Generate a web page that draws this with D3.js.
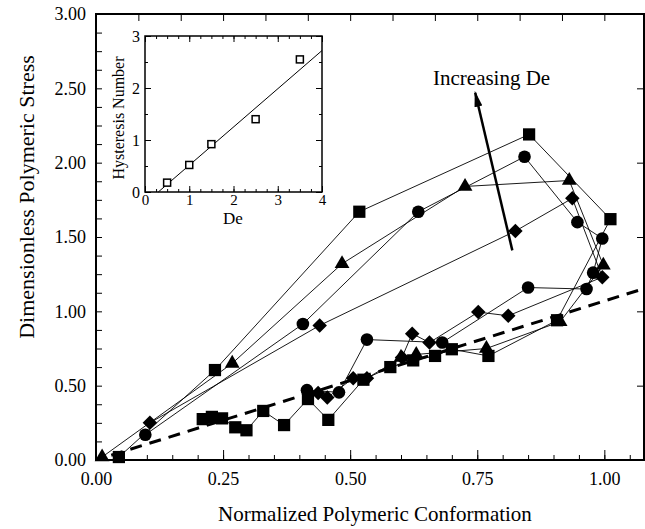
<!DOCTYPE html>
<html>
<head>
<meta charset="utf-8">
<script src="https://cdn.jsdelivr.net/npm/d3@7"></script>
<style>
  body { margin: 0; background: #fff; }
  svg { display: block; font-family: "Liberation Serif", "Times New Roman", serif; }
  .axis text { font-family: "Liberation Serif", "Times New Roman", serif; fill: #000; }
  .axis line { stroke: #000; }
</style>
</head>
<body>
<svg class="chart" width="645" height="529"></svg>
<script>
// main chart data, [conformation, stress]
var squares = [[0.045, 0.02], [0.234, 0.605], [0.518, 1.67], [0.852, 2.19], [1.012, 1.62],
    [0.907, 0.94], [0.772, 0.70], [0.70, 0.745], [0.667, 0.70], [0.624, 0.67], [0.579, 0.625],
    [0.526, 0.54], [0.457, 0.27], [0.417, 0.41], [0.37, 0.235], [0.329, 0.33], [0.296, 0.20],
    [0.274, 0.22], [0.248, 0.28], [0.228, 0.29], [0.21, 0.275]];
var circles = [[0.097, 0.17], [0.407, 0.915], [0.634, 1.67], [0.843, 2.04], [0.947, 1.60],
    [0.996, 1.49], [0.978, 1.26], [0.965, 1.15], [0.85, 1.16], [0.681, 0.79], [0.533, 0.81],
    [0.478, 0.455], [0.415, 0.47]];
var triangles = [[0.012, 0.02], [0.268, 0.65], [0.484, 1.32], [0.726, 1.84], [0.931, 1.88],
    [0.998, 1.31], [0.913, 0.93], [0.768, 0.75], [0.63, 0.71], [0.60, 0.69]];
var diamonds = [[0.106, 0.25], [0.44, 0.905], [0.825, 1.54], [0.937, 1.76], [0.996, 1.23],
    [0.811, 0.97], [0.752, 0.995], [0.656, 0.79], [0.622, 0.85], [0.602, 0.69], [0.533, 0.55],
    [0.506, 0.55], [0.455, 0.42], [0.437, 0.45]];
var dashedLine = [[0.03, 0.032], [1.08, 1.155]];
var arrowPts = [[0.819, 1.41], [0.746, 2.47]];

var xTicks = [0, 0.25, 0.5, 0.75, 1.0];
var yTicks = [0, 0.5, 1.0, 1.5, 2.0, 2.5, 3.0];

// inset data
var deValues = [0.5, 1.0, 1.5, 2.5, 3.5];
var hysteresis = [0.18, 0.52, 0.92, 1.40, 2.55];
var fitLine = [[0.3, 0.0], [4.0, 2.72]];
var insetXTicks = [0, 1, 2, 3, 4];
var insetYTicks = [0, 1, 2, 3];

var svg = d3.select(".chart"),
    margin = { top: 14, right: 0, bottom: 69, left: 96 },
    width = 549,
    height = 446;

var x = d3.scaleLinear().domain([0, 1.08]).range([margin.left, margin.left + width]),
    y = d3.scaleLinear().domain([0, 3]).range([margin.top + height, margin.top]);

var fmt = d3.format(".2f");

// axes (ticks point inward)
svg.append("g")
    .attr("class", "axis")
    .attr("transform", "translate(0," + y(0) + ")")
    .call(d3.axisBottom(x).tickValues(d3.range(0, 1.08, 0.05)).tickSize(-5).tickFormat(""));
svg.append("g")
    .attr("class", "axis")
    .attr("transform", "translate(0," + y(0) + ")")
    .call(d3.axisBottom(x).tickValues(xTicks).tickSize(-10).tickPadding(12).tickFormat(fmt))
    .selectAll("text").style("font-size", "18px");
svg.append("g")
    .attr("class", "axis")
    .attr("transform", "translate(" + x(0) + ",0)")
    .call(d3.axisLeft(y).tickValues(d3.range(0, 3.01, 0.125)).tickSize(-6).tickPadding(10)
        .tickFormat(function(d) { return yTicks.indexOf(d) >= 0 ? fmt(d) : ""; }))
    .selectAll("text").style("font-size", "18px");
svg.append("g")
    .attr("class", "axis")
    .attr("transform", "translate(0," + y(3) + ")")
    .call(d3.axisTop(x).tickValues(d3.range(0, 1.08, 0.25 / 3)).tickSize(-7).tickFormat(""));
svg.append("g")
    .attr("class", "axis")
    .attr("transform", "translate(" + (margin.left + width - 1) + ",0)")
    .call(d3.axisRight(y).tickValues(yTicks).tickSize(-7).tickFormat(""));
svg.selectAll(".axis .domain").remove();

svg.append("rect")
    .attr("x", x(0)).attr("y", y(3))
    .attr("width", width - 1).attr("height", height)
    .attr("fill", "none").attr("stroke", "#000").attr("stroke-width", 2);

// dashed reference line
var line = d3.line().x(function(d) { return x(d[0]); }).y(function(d) { return y(d[1]); });
svg.append("path")
    .attr("d", line(dashedLine))
    .attr("fill", "none").attr("stroke", "#000")
    .attr("stroke-width", 3).attr("stroke-dasharray", "12,8");

var series = [
    { data: squares, shape: d3.symbolSquare, size: 150, rot: 0 },
    { data: circles, shape: d3.symbolCircle, size: 125, rot: 0 },
    { data: triangles, shape: d3.symbolTriangle, size: 95, rot: 0 },
    { data: diamonds, shape: d3.symbolSquare, size: 105, rot: 45 }
];

series.forEach(function(s) {
    svg.append("path")
        .attr("d", line(s.data))
        .attr("fill", "none").attr("stroke", "#000").attr("stroke-width", 0.9);
});
series.forEach(function(s) {
    svg.append("g").selectAll("path")
        .data(s.data)
        .enter().append("path")
        .attr("d", d3.symbol().type(s.shape).size(s.size))
        .attr("transform", function(d) {
            return "translate(" + x(d[0]) + "," + y(d[1]) + ") rotate(" + s.rot + ")";
        })
        .attr("fill", "#000");
});

// arrow
svg.append("defs").append("marker")
    .attr("id", "head")
    .attr("viewBox", "0 0 16 10")
    .attr("refX", 14).attr("refY", 5)
    .attr("markerWidth", 16).attr("markerHeight", 10)
    .attr("markerUnits", "userSpaceOnUse")
    .attr("orient", "auto")
    .append("path").attr("d", "M0,1 L16,5 L0,9 Z").attr("fill", "#000");
svg.append("path")
    .attr("d", line(arrowPts))
    .attr("stroke", "#000").attr("stroke-width", 2.5)
    .attr("marker-end", "url(#head)");
svg.append("text")
    .attr("x", 433).attr("y", 85)
    .style("font-size", "21px")
    .text("Increasing De");

// axis titles
svg.append("text")
    .attr("x", 375).attr("y", 521)
    .attr("text-anchor", "middle")
    .style("font-size", "21px")
    .text("Normalized Polymeric Conformation");
svg.append("text")
    .attr("transform", "translate(34,197) rotate(-90)")
    .attr("text-anchor", "middle")
    .style("font-size", "22px")
    .text("Dimensionless Polymeric Stress");

// inset
var xi = d3.scaleLinear().domain([0, 4]).range([145, 322]),
    yi = d3.scaleLinear().domain([0, 3]).range([192, 36]);

svg.append("rect")
    .attr("x", xi(0)).attr("y", yi(3))
    .attr("width", xi(4) - xi(0)).attr("height", yi(0) - yi(3))
    .attr("fill", "#fff").attr("stroke", "#000").attr("stroke-width", 1.5);

var inset = svg.append("g").attr("class", "axis");
inset.append("g")
    .attr("transform", "translate(0," + yi(0) + ")")
    .call(d3.axisBottom(xi).tickValues(d3.range(0, 4.01, 0.25)).tickSize(-3).tickFormat(""));
inset.append("g")
    .attr("transform", "translate(0," + yi(0) + ")")
    .call(d3.axisBottom(xi).tickValues(insetXTicks).tickSize(-6).tickPadding(2).tickFormat(d3.format("d")))
    .selectAll("text").style("font-size", "15px");
inset.append("g")
    .attr("transform", "translate(0," + yi(3) + ")")
    .call(d3.axisTop(xi).tickValues(d3.range(0, 4.01, 0.25)).tickSize(-3).tickFormat(""));
inset.append("g")
    .attr("transform", "translate(0," + yi(3) + ")")
    .call(d3.axisTop(xi).tickValues(insetXTicks).tickSize(-6).tickFormat(""));
inset.append("g")
    .attr("transform", "translate(" + xi(0) + ",0)")
    .call(d3.axisLeft(yi).tickValues(d3.range(0, 3.01, 0.5)).tickSize(-3).tickFormat(""));
inset.append("g")
    .attr("transform", "translate(" + xi(0) + ",0)")
    .call(d3.axisLeft(yi).tickValues(insetYTicks).tickSize(-6).tickPadding(5).tickFormat(d3.format("d")))
    .selectAll("text").style("font-size", "16px");
inset.append("g")
    .attr("transform", "translate(" + xi(4) + ",0)")
    .call(d3.axisRight(yi).tickValues(d3.range(0, 3.01, 0.5)).tickSize(-3).tickFormat(""));
inset.append("g")
    .attr("transform", "translate(" + xi(4) + ",0)")
    .call(d3.axisRight(yi).tickValues(insetYTicks).tickSize(-6).tickFormat(""));
inset.selectAll(".domain").remove();

var iline = d3.line().x(function(d) { return xi(d[0]); }).y(function(d) { return yi(d[1]); });
svg.append("path")
    .attr("d", iline(fitLine))
    .attr("fill", "none").attr("stroke", "#000").attr("stroke-width", 1);

svg.append("g").selectAll("rect")
    .data(deValues)
    .enter().append("rect")
    .attr("x", function(d) { return xi(d) - 3.5; })
    .attr("y", function(d, i) { return yi(hysteresis[i]) - 3.5; })
    .attr("width", 7).attr("height", 7)
    .attr("fill", "#fff").attr("stroke", "#000").attr("stroke-width", 1.5);

svg.append("text")
    .attr("x", 233).attr("y", 224)
    .attr("text-anchor", "middle")
    .style("font-size", "17px")
    .text("De");
svg.append("text")
    .attr("transform", "translate(124,118) rotate(-90)")
    .attr("text-anchor", "middle")
    .style("font-size", "16px")
    .text("Hysteresis Number");
</script>
</body>
</html>
